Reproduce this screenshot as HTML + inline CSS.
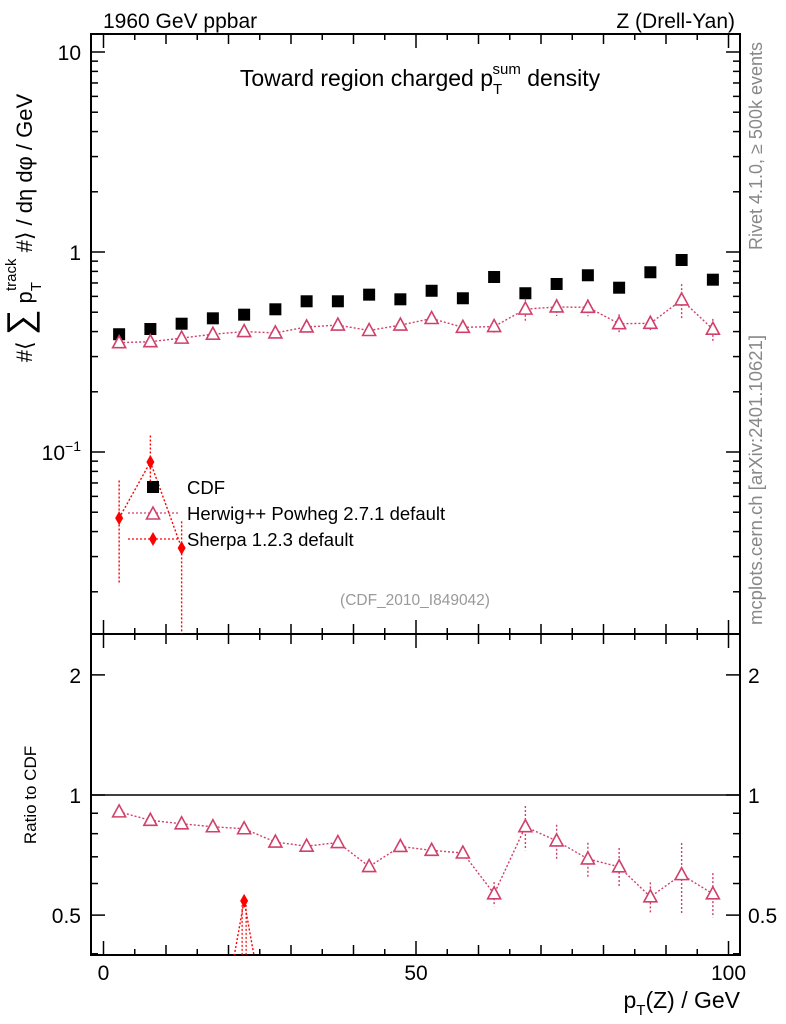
<!DOCTYPE html>
<html><head><meta charset="utf-8"><style>
html,body{margin:0;padding:0;background:#fff}
svg{display:block;font-family:"Liberation Sans",sans-serif}
</style></head><body>
<svg id="chart" width="786" height="1024" viewBox="0 0 786 1024">
<rect width="786" height="1024" fill="#fff"/>
<g id="g"></g>
</svg>
<script>
const xCenters = [2.5,7.5,12.5,17.5,22.5,27.5,32.5,37.5,42.5,47.5,52.5,57.5,62.5,67.5,72.5,77.5,82.5,87.5,92.5,97.5];
const cdfValues = [0.388,0.412,0.438,0.466,0.486,0.517,0.567,0.567,0.612,0.580,0.640,0.587,0.750,0.622,0.692,0.765,0.663,0.792,0.912,0.727];
const herwigValues = [0.352,0.356,0.371,0.388,0.400,0.394,0.422,0.431,0.405,0.431,0.465,0.420,0.424,0.518,0.531,0.529,0.438,0.440,0.576,0.411];
const herwigRelErr = [0.01,0.01,0.01,0.01,0.01,0.015,0.02,0.02,0.025,0.025,0.025,0.025,0.07,0.127,0.098,0.098,0.115,0.087,0.2,0.127];
const sherpaX = [2.5,7.5,12.5];
const sherpaValues = [0.0467,0.0891,0.0331];
const sherpaLow = [0.022,0.070,0.001];
const sherpaHigh = [0.072,0.121,0.045];
const sherpaRatioX = [17.5,22.5,27.5];
const sherpaRatioValues = [0.2,0.543,0.2];
const yTickMain = [0.1,1,10];
const yTickRatio = [0.5,1,2];
const xTickLabels = [0,50,100];

const NS="http://www.w3.org/2000/svg";
const g=document.getElementById('g');
function mk(t,a,p){const e=document.createElementNS(NS,t);for(const k in a)e.setAttribute(k,a[k]);(p||g).appendChild(e);return e;}
const L=91,R=740,MT=34,MB=634,RB=955;
const X=u=>103.5+6.25*u;
const YM=v=>252-200*Math.log10(v);
const YR=v=>795-399*Math.log10(v);

const defs=mk('defs',{});
const c1=mk('clipPath',{id:'cm'},defs);mk('rect',{x:L,y:MT,width:R-L,height:MB-MT},c1);
const c2=mk('clipPath',{id:'cr'},defs);mk('rect',{x:L,y:MB,width:R-L,height:RB-MB},c2);

let f=mk('rect',{x:L,y:MT,width:R-L,height:MB-MT,fill:'none',stroke:'#000','stroke-width':2});

f=mk('rect',{x:L,y:MB,width:R-L,height:RB-MB,fill:'none',stroke:'#000','stroke-width':2});


for(let d=-2;d<=1;d++){for(let m=1;m<=9;m++){const v=m*Math.pow(10,d);const y=YM(v);if(y<MT||y>MB)continue;const len=m==1?14:7;
mk('line',{x1:L,x2:L+len,y1:y,y2:y,stroke:'#000','stroke-width':1.5});mk('line',{x1:R-len,x2:R,y1:y,y2:y,stroke:'#000','stroke-width':1.5});}}
yTickMain.forEach(v=>{const y=YM(v);let t;
if(v==0.1){t=mk('text',{x:L-10,y:y+8,'text-anchor':'end','font-size':21});t.innerHTML='10<tspan dy="-9" font-size="14">−1</tspan>';}
else{t=mk('text',{x:L-10,y:y+8,'text-anchor':'end','font-size':21});t.textContent=String(v);}
});
for(let d=-1;d<=0;d++){for(let m=1;m<=9;m++){const v=m*Math.pow(10,d);const y=YR(v);if(y<MB||y>RB)continue;const len=(v==0.5||v==1||v==2)?14:7;
mk('line',{x1:L,x2:L+len,y1:y,y2:y,stroke:'#000','stroke-width':1.5});mk('line',{x1:R-len,x2:R,y1:y,y2:y,stroke:'#000','stroke-width':1.5});}}
yTickRatio.forEach(v=>{const y=YR(v);let t=mk('text',{x:L-10,y:y+8,'text-anchor':'end','font-size':21});t.textContent=String(v);

t=mk('text',{x:R+8,y:y+8,'font-size':21});t.textContent=String(v);
});
mk('line',{x1:L,x2:R,y1:YR(1),y2:YR(1),stroke:'#000','stroke-width':1.5});
for(let u=0;u<=100;u+=5){const x=X(u);const len=u%50==0?14:(u%10==0?10:6);
[MT,MB].forEach(y0=>{mk('line',{x1:x,x2:x,y1:y0,y2:y0+len,stroke:'#000','stroke-width':1.5});});
[MB,RB].forEach(y0=>{mk('line',{x1:x,x2:x,y1:y0,y2:y0-len,stroke:'#000','stroke-width':1.5});});}
xTickLabels.forEach(u=>{const t=mk('text',{x:X(u),y:980,'text-anchor':'middle','font-size':21});t.textContent=String(u);
});

const gm=mk('g',{'clip-path':'url(#cm)'});
cdfValues.forEach((v,i)=>{const r=mk('rect',{x:X(xCenters[i])-6,y:YM(v)-6,width:12,height:12,fill:'#000'},gm);
});
const hc='#d0406a';
function tri(x,y,p,name){const t=mk('polygon',{points:`${x},${y-7} ${x-6.5},${y+5} ${x+6.5},${y+5}`,fill:'#fff',stroke:hc,'stroke-width':1.6},p);
}
mk('polyline',{points:herwigValues.map((v,i)=>X(xCenters[i])+','+YM(v)).join(' '),fill:'none',stroke:hc,'stroke-width':1.4,'stroke-dasharray':'2,2'},gm);
herwigValues.forEach((v,i)=>{const x=X(xCenters[i]);const e=herwigRelErr[i];
if(e>0.03){mk('line',{x1:x,x2:x,y1:YM(v*(1+e)),y2:YM(v*(1-e)),stroke:hc,'stroke-width':1.4,'stroke-dasharray':'2,2'},gm);}
tri(x,YM(v),gm,'herwig-point');});
const sc='#ff0000';
function dia(x,y,p,name){const d=mk('polygon',{points:`${x},${y-7} ${x+4},${y} ${x},${y+7} ${x-4},${y}`,fill:sc},p);
}
mk('polyline',{points:sherpaValues.map((v,i)=>X(sherpaX[i])+','+YM(v)).join(' '),fill:'none',stroke:sc,'stroke-width':1.4,'stroke-dasharray':'2,2'},gm);
sherpaValues.forEach((v,i)=>{const x=X(sherpaX[i]);
mk('line',{x1:x,x2:x,y1:YM(sherpaHigh[i]),y2:YM(sherpaLow[i]),stroke:sc,'stroke-width':1.4,'stroke-dasharray':'2,2'},gm);
dia(x,YM(v),gm,'sherpa-point');});

const gr=mk('g',{'clip-path':'url(#cr)'});
const hr=herwigValues.map((v,i)=>v/cdfValues[i]);
mk('polyline',{points:hr.map((v,i)=>X(xCenters[i])+','+YR(v)).join(' '),fill:'none',stroke:hc,'stroke-width':1.4,'stroke-dasharray':'2,2'},gr);
hr.forEach((v,i)=>{const x=X(xCenters[i]);const e=herwigRelErr[i];
mk('line',{x1:x,x2:x,y1:YR(v*(1+e)),y2:YR(v*(1-e)),stroke:hc,'stroke-width':1.4,'stroke-dasharray':'2,2'},gr);
tri(x,YR(v),gr,'herwig-ratio-point');});
mk('polyline',{points:sherpaRatioX.map((u,i)=>X(u)+','+YR(sherpaRatioValues[i])).join(' '),fill:'none',stroke:sc,'stroke-width':1.4,'stroke-dasharray':'2,2'},gr);
mk('line',{x1:X(22.5)-2,x2:X(22.5)-2,y1:YR(0.543),y2:RB,stroke:sc,'stroke-width':1.2,'stroke-dasharray':'2,2'},gr);
mk('line',{x1:X(22.5)+2,x2:X(22.5)+2,y1:YR(0.543),y2:RB,stroke:sc,'stroke-width':1.2,'stroke-dasharray':'2,2'},gr);
dia(X(22.5),YR(0.543),gr,'sherpa-ratio-point');

const lg=mk('g',{});
let r=mk('rect',{x:147,y:481,width:12,height:12,fill:'#000'},lg);
mk('line',{x1:128,x2:180,y1:513,y2:513,stroke:hc,'stroke-width':1.2,'stroke-dasharray':'2,2'},lg);
tri(153,514,lg,'legend-herwig-marker');
mk('line',{x1:128,x2:180,y1:539,y2:539,stroke:sc,'stroke-width':1.2,'stroke-dasharray':'2,2'},lg);
dia(153,539,lg,'legend-sherpa-marker');
[['CDF',494,'legend-cdf-label'],['Herwig++ Powheg 2.7.1 default',520,'legend-herwig-label'],['Sherpa 1.2.3 default',546,'legend-sherpa-label']].forEach(a=>{
const t=mk('text',{x:187,y:a[1],'font-size':18.5},lg);t.textContent=a[0];});
</script>
<svg style="position:absolute;left:0;top:0" width="786" height="1024">
<text x="103" y="28" font-size="21" font-family="Liberation Sans">1960 GeV ppbar</text>
<text x="735" y="28" font-size="21" text-anchor="end" font-family="Liberation Sans">Z (Drell-Yan)</text>
<text x="420" y="86" font-size="23" text-anchor="middle" font-family="Liberation Sans">Toward region charged p<tspan dy="8" font-size="15">T</tspan><tspan dx="-8" dy="-20" font-size="15">sum</tspan><tspan dy="12"> density</tspan></text>
<text x="415" y="605" font-size="15.5" fill="#999" text-anchor="middle" font-family="Liberation Sans">(CDF_2010_I849042)</text>
<text transform="translate(762,146) rotate(-90)" font-size="18" fill="#888" text-anchor="middle" font-family="Liberation Sans">Rivet 4.1.0, ≥ 500k events</text>
<text transform="translate(762,480) rotate(-90)" font-size="18.5" fill="#888" text-anchor="middle" font-family="Liberation Sans">mcplots.cern.ch [arXiv:2401.10621]</text>
<text transform="translate(32,228) rotate(-90)" font-size="22" text-anchor="middle" font-family="Liberation Sans, DejaVu Sans">#⟨ <tspan font-size="36">∑</tspan> p<tspan dy="9" font-size="15">T</tspan><tspan dx="-9" dy="-25" font-size="15">track</tspan><tspan dy="16"> #⟩ / dη dφ / GeV</tspan></text>
<text transform="translate(36,795) rotate(-90)" font-size="17" text-anchor="middle" font-family="Liberation Sans">Ratio to CDF</text>
<text x="740" y="1008" font-size="23" text-anchor="end" font-family="Liberation Sans">p<tspan dy="7" font-size="15">T</tspan><tspan dy="-7">(Z) / GeV</tspan></text>
</svg>
</body></html>
